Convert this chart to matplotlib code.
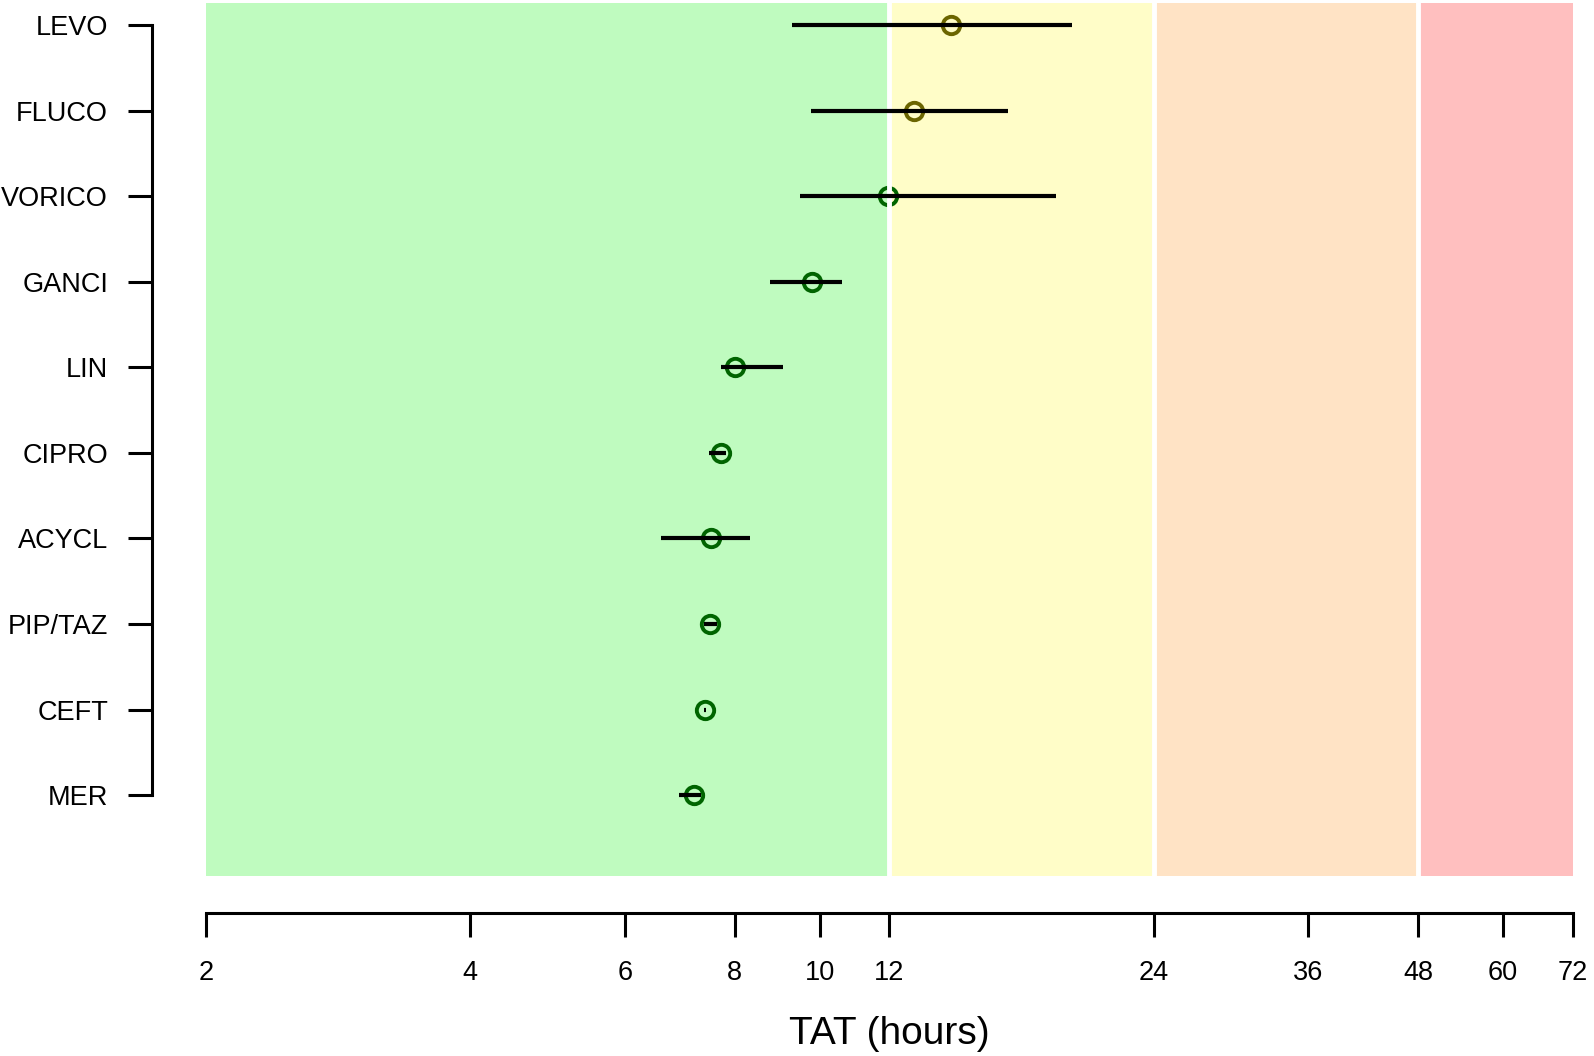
import numpy as np
import matplotlib.pyplot as plt
from matplotlib.ticker import NullLocator

plt.rcParams['font.family'] = ['Liberation Sans', 'DejaVu Sans']

# drugs, top to bottom
drugs = ['LEVO', 'FLUCO', 'VORICO', 'GANCI', 'LIN', 'CIPRO', 'ACYCL', 'PIP/TAZ', 'CEFT', 'MER']
tat = [14.1, 12.8, 11.95, 9.8, 8.0, 7.71, 7.52, 7.50, 7.40, 7.19]
tat_lo = [9.3, 9.77, 9.5, 8.78, 7.71, 7.47, 6.60, 7.38, 7.39, 6.91]
tat_hi = [19.4, 16.4, 18.6, 10.6, 9.07, 7.83, 8.33, 7.64, 7.42, 7.33]

bands = [2, 12, 24, 48, 72]
band_colors = ['#BFFBBF', '#FFFDC8', '#FFE3C5', '#FFBFBF']
ticks = [2, 4, 6, 8, 10, 12, 24, 36, 48, 60, 72]

fig = plt.figure(figsize=(15.94, 10.56), dpi=100)
ax = fig.add_axes([0.1292, 0.1702, 0.8574, 0.8268])

ax.set_xscale('log')
ax.set_xlim(2, 72)
ax.set_ylim(0.05, 10.26)

for i in range(len(band_colors)):
    ax.axvspan(bands[i], bands[i + 1], color=band_colors[i], lw=0, zorder=0)
for b in bands[1:-1]:
    ax.axvline(b, color='white', lw=3.5, zorder=3)

ypos = np.arange(len(drugs), 0, -1)
for y, v, lo, hi in zip(ypos, tat, tat_lo, tat_hi):
    col = '#006400' if v < 12 else '#6B6500'
    ax.plot(v, y, 'o', ms=12.5, mfc='none', mec=col, mew=2.8, zorder=2)
    ax.plot([lo, hi], [y, y], color='black', lw=3.0, solid_capstyle='butt', zorder=4)

for s in ['top', 'right']:
    ax.spines[s].set_visible(False)
ax.spines['bottom'].set_position(('outward', 26.6))
ax.spines['left'].set_position(('outward', 38.5))
ax.spines['bottom'].set_linewidth(2.2)
ax.spines['left'].set_linewidth(2.2)
ax.spines['left'].set_bounds(1, 10)

ax.set_yticks(ypos)
ax.set_yticklabels(drugs, fontsize=19.5)
ax.set_xticks(ticks)
ax.set_xticklabels([str(t) for t in ticks], fontsize=19.5)
ax.xaxis.set_minor_locator(NullLocator())
ax.tick_params(axis='x', length=17, width=2.2, pad=17)
ax.tick_params(axis='y', length=17, width=2.2, pad=15)

ax.set_xlabel('TAT (hours)', fontsize=28, labelpad=21)

fig.savefig('out.png', dpi=100)
